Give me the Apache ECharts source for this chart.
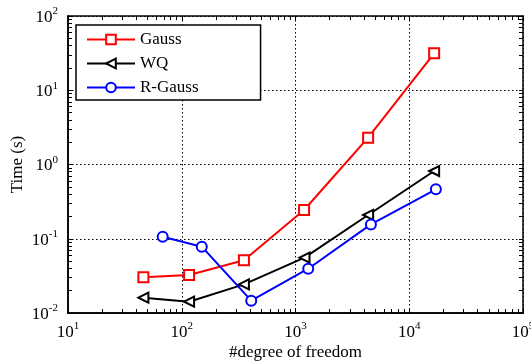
<!DOCTYPE html>
<html>
<head>
<meta charset="utf-8">
<script src="https://cdn.jsdelivr.net/npm/echarts@6/dist/echarts.min.js"></script>
<style>
  html, body { margin: 0; padding: 0; background: #fff; }
  #chart { width: 531px; height: 362px; }
</style>
</head>
<body>
<div id="chart"></div>
<script>
// Degrees of freedom (x) and run time in seconds (y) for each solver
const dofGauss   = [46, 116, 352, 1190, 4350, 16550];
const timeGauss  = [0.0303, 0.0325, 0.0513, 0.244, 2.30, 31.4];
const dofWQ      = [46, 116, 352, 1200, 4350, 16550];
const timeWQ     = [0.0161, 0.0142, 0.0243, 0.0556, 0.209, 0.817];
const dofRGauss  = [68, 150, 408, 1294, 4600, 17140];
const timeRGauss = [0.1066, 0.0782, 0.01466, 0.0395, 0.156, 0.463];

const seriesNames = ['Gauss', 'WQ', 'R-Gauss'];
const xRange = [10, 1e5];
const yRange = [1e-2, 1e2];

const FONT = 'Liberation Serif';

// Tick positions 1..9 x 10^k across a log range (minor + major)
function logTicks(lo, hi) {
  const out = [];
  for (let e = Math.round(Math.log10(lo)); e < Math.round(Math.log10(hi)); e++) {
    for (let m = 1; m <= 9; m++) out.push(m * Math.pow(10, e));
  }
  out.push(hi);
  return out;
}

function pow10Label(v) {
  const e = Math.round(Math.log10(v));
  return '{b|10}{s|' + e + '}';
}

const richLabel = {
  b: { fontFamily: FONT, fontSize: 17, color: '#000', lineHeight: 20, verticalAlign: 'bottom' },
  s: { fontFamily: FONT, fontSize: 11, color: '#000', lineHeight: 12, verticalAlign: 'top' }
};

const dotted = { color: '#000', width: 1, type: [1.5, 2.5] };
const frame = { show: true, onZero: false, lineStyle: { color: '#000', width: 1.5 } };

function tickAxis(base, position, values) {
  return Object.assign({}, base, {
    position: position,
    axisLine: frame,
    axisLabel: { show: false },
    splitLine: { show: false },
    axisTick: { show: true, inside: true, length: 4, customValues: values, lineStyle: { color: '#000', width: 1 } }
  });
}

const xBase = { type: 'log', logBase: 10, min: xRange[0], max: xRange[1], gridIndex: 0 };
const yBase = { type: 'log', logBase: 10, min: yRange[0], max: yRange[1], gridIndex: 0 };

const chart = echarts.init(document.getElementById('chart'), null, { renderer: 'canvas' });

function toPairs(xs, ys) { return xs.map((x, i) => [x, ys[i]]); }

function lineSeries(name, color, symbol, rotate, xs, ys) {
  return {
    name: name,
    type: 'line',
    xAxisIndex: 0,
    yAxisIndex: 0,
    data: toPairs(xs, ys),
    symbol: symbol,
    symbolSize: 10,
    symbolRotate: rotate,
    showAllSymbol: true,
    lineStyle: { color: color, width: 2 },
    itemStyle: { color: '#fff', borderColor: color, borderWidth: 2 },
    emphasis: { disabled: true },
    animation: false
  };
}

chart.setOption({
  animation: false,
  backgroundColor: '#fff',
  grid: { left: 68, right: 8, top: 16, bottom: 49, containLabel: false, outerBoundsMode: 'none' },
  xAxis: [
    Object.assign({}, xBase, {
      position: 'bottom',
      name: '#degree of freedom',
      nameLocation: 'middle',
      nameGap: 31,
      nameMoveOverlap: false,
      nameTextStyle: { fontFamily: FONT, fontSize: 17, color: '#000' },
      axisLine: frame,
      axisTick: { show: false },
      axisLabel: { show: true, formatter: pow10Label, rich: richLabel, margin: 8 },
      splitLine: { show: true, lineStyle: dotted }
    }),
    tickAxis(xBase, 'bottom', logTicks(xRange[0], xRange[1])),
    tickAxis(xBase, 'top', logTicks(xRange[0], xRange[1]))
  ],
  yAxis: [
    Object.assign({}, yBase, {
      position: 'left',
      name: 'Time (s)',
      nameLocation: 'middle',
      nameGap: 42,
      nameMoveOverlap: false,
      nameRotate: 90,
      nameTextStyle: { fontFamily: FONT, fontSize: 17, color: '#000' },
      axisLine: frame,
      axisTick: { show: false },
      axisLabel: { show: true, formatter: pow10Label, rich: richLabel, margin: 10 },
      splitLine: { show: true, lineStyle: dotted }
    }),
    tickAxis(yBase, 'left', logTicks(yRange[0], yRange[1])),
    tickAxis(yBase, 'right', logTicks(yRange[0], yRange[1]))
  ],
  legend: {
    data: seriesNames,
    orient: 'vertical',
    left: 76,
    top: 25,
    padding: [6, 62, 4, 10],
    itemWidth: 48,
    itemHeight: 12,
    itemGap: 7,
    backgroundColor: '#fff',
    borderColor: '#000',
    borderWidth: 1.5,
    borderRadius: 0,
    textStyle: { fontFamily: FONT, fontSize: 17, color: '#000' },
    selectedMode: false
  },
  series: [
    lineSeries('Gauss', '#ff0000', 'rect', 0, dofGauss, timeGauss),
    lineSeries('WQ', '#000000', 'triangle', 90, dofWQ, timeWQ),
    lineSeries('R-Gauss', '#0000ff', 'circle', 0, dofRGauss, timeRGauss)
  ]
});
</script>
</body>
</html>
